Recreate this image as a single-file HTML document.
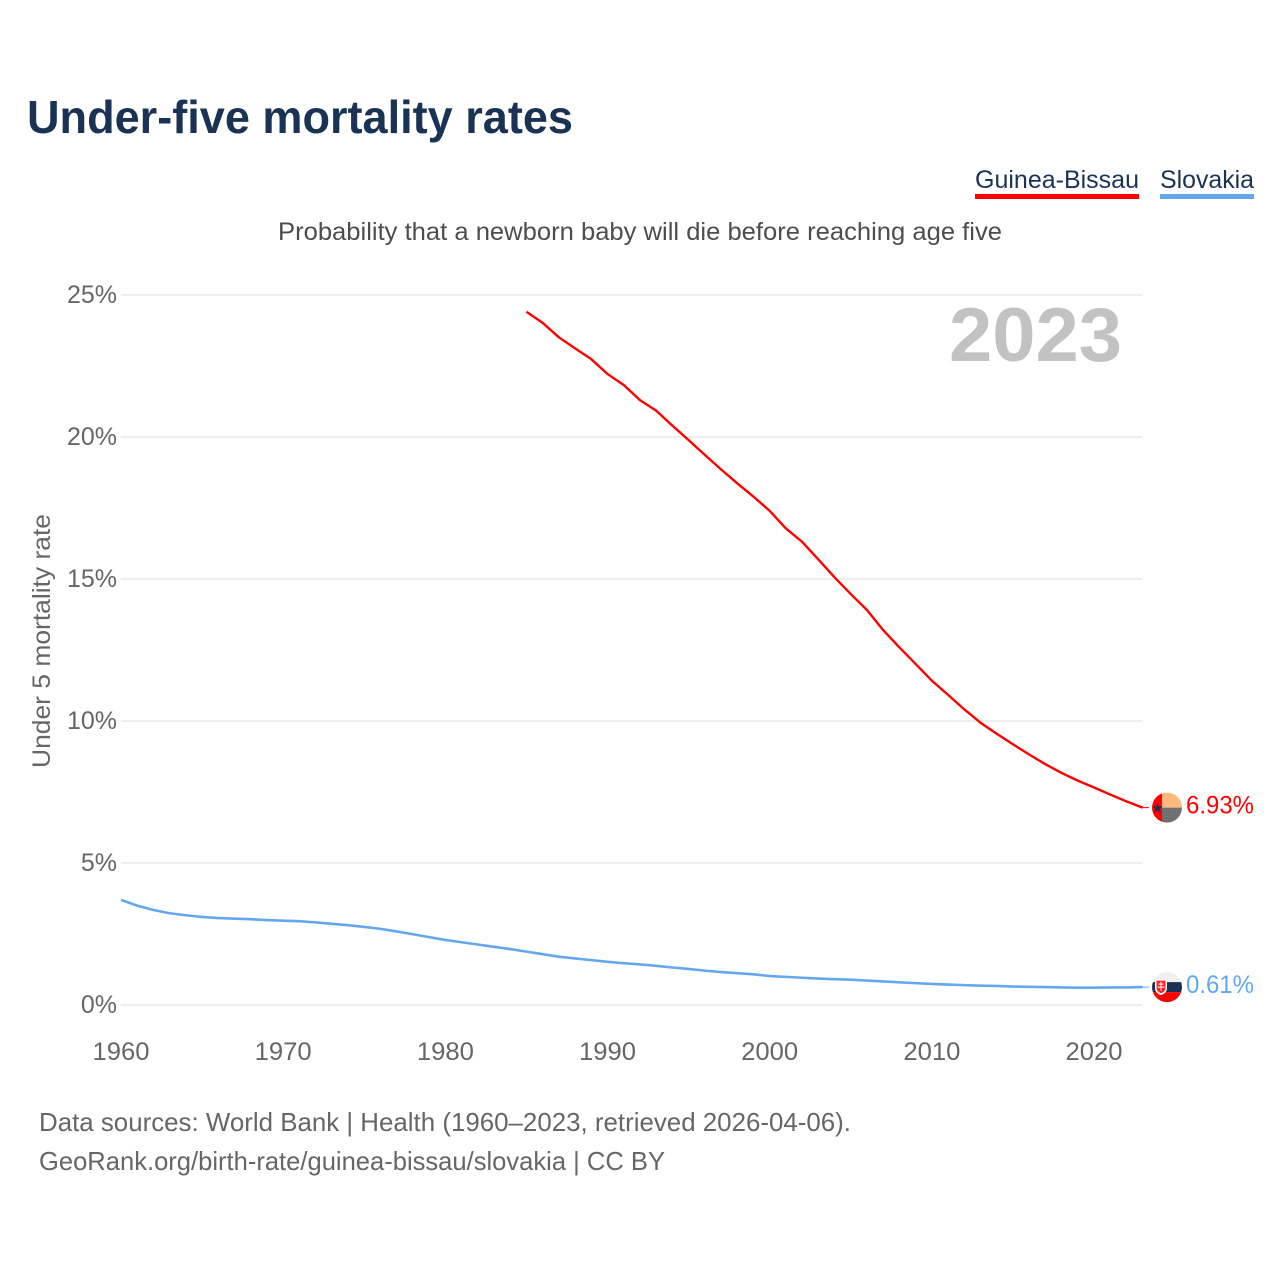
<!DOCTYPE html>
<html lang="en">
<head>
<meta charset="utf-8">
<title>Under-five mortality rates</title>
<style>
html,body{margin:0;padding:0;background:#fff;width:1280px;height:1280px;overflow:hidden}
svg{display:block}
text{font-family:"Liberation Sans",sans-serif}
</style>
</head>
<body>
<svg id="chart" width="1280" height="1280" viewBox="0 0 1280 1280" xmlns="http://www.w3.org/2000/svg">
  <defs>
    <clipPath id="clip-gw"><circle id="clip-gw-c" r="15"/></clipPath>
    <clipPath id="clip-sk"><circle id="clip-sk-c" r="15"/></clipPath>
    <pattern id="gw-dots" width="3" height="3" patternUnits="userSpaceOnUse"><rect width="3" height="3" fill="#6e6e6e"/><rect width="1" height="1" fill="#7e7e7e"/></pattern>
  </defs>
  <text x="27" y="133" font-size="46" font-weight="700" fill="#1a3355" textLength="546" lengthAdjust="spacingAndGlyphs">Under-five mortality rates</text>
  <text x="278" y="240" font-size="25" fill="#4d4d4d" textLength="724" lengthAdjust="spacingAndGlyphs">Probability that a newborn baby will die before reaching age five</text>

  <g>
    <text x="975" y="188" font-size="25" fill="#1a3355" textLength="164" lengthAdjust="spacingAndGlyphs">Guinea-Bissau</text>
    <rect x="975" y="194" width="164" height="5" fill="#ff0000"/>
  </g>
  <g>
    <text x="1160" y="188" font-size="25" fill="#1a3355" textLength="94" lengthAdjust="spacingAndGlyphs">Slovakia</text>
    <rect x="1160" y="194" width="94" height="5" fill="#63a8ef"/>
  </g>

  <g id="grid"></g>
  <g id="y-axis"></g>
  <g id="x-axis"></g>

  <text x="949" y="361" font-size="76" font-weight="700" fill="#c2c2c2" textLength="173" lengthAdjust="spacingAndGlyphs">2023</text>

  <text transform="translate(50,768) rotate(-90)" font-size="25" fill="#666" textLength="254" lengthAdjust="spacingAndGlyphs">Under 5 mortality rate</text>

  <g id="series"></g>
  <g id="ends"></g>

  <text x="39" y="1131" font-size="26" fill="#666" textLength="812" lengthAdjust="spacingAndGlyphs">Data sources: World Bank | Health (1960–2023, retrieved 2026-04-06).</text>
  <text x="39" y="1170" font-size="26" fill="#666" textLength="626" lengthAdjust="spacingAndGlyphs">GeoRank.org/birth-rate/guinea-bissau/slovakia | CC BY</text>
</svg>
<script>
const yTicks = [0, 5, 10, 15, 20, 25];
const xTicks = [1960, 1970, 1980, 1990, 2000, 2010, 2020];
const guineaStartYear = 1985;
const guineaValues = [24.41,24.02,23.51,23.12,22.74,22.22,21.83,21.3,20.93,20.4,19.89,19.37,18.86,18.37,17.9,17.4,16.78,16.31,15.69,15.06,14.47,13.91,13.2,12.59,12.01,11.42,10.92,10.41,9.94,9.55,9.18,8.82,8.48,8.17,7.9,7.66,7.41,7.17,6.95];
const slovakiaStartYear = 1960;
const slovakiaValues = [3.7,3.5,3.345,3.23,3.16,3.1,3.06,3.04,3.02,2.99,2.97,2.95,2.91,2.86,2.81,2.75,2.68,2.59,2.49,2.39,2.29,2.21,2.13,2.05,1.97,1.88,1.79,1.7,1.64,1.58,1.52,1.47,1.43,1.38,1.32,1.27,1.21,1.16,1.12,1.08,1.02,0.99,0.96,0.93,0.91,0.89,0.86,0.83,0.8,0.77,0.74,0.72,0.7,0.68,0.67,0.65,0.64,0.63,0.62,0.61,0.61,0.62,0.62,0.63];
const guineaLabel = "6.93%";
const slovakiaLabel = "0.61%";

const NS = "http://www.w3.org/2000/svg";
const xScale = function (year) { return 121 + (year - 1960) * (1094 - 121) / 60; };
const yScale = function (v) { return 1005 - v * (1005 - 295) / 25; };
const plotRight = 1142;

function make(tag, attrs, parent) {
  const el = document.createElementNS(NS, tag);
  for (const k in attrs) el.setAttribute(k, attrs[k]);
  parent.appendChild(el);
  return el;
}

const grid = document.getElementById("grid");
const yAxis = document.getElementById("y-axis");
const xAxis = document.getElementById("x-axis");
const series = document.getElementById("series");
const ends = document.getElementById("ends");

yTicks.forEach(function (t) {
  const line = make("line", { x1: 121, x2: plotRight, y1: yScale(t), y2: yScale(t), stroke: "#eeeeee", "stroke-width": 2 }, grid);
  
  
  const label = make("text", { x: 117, y: yScale(t) + 8, "font-size": 25, fill: "#666", "text-anchor": "end" }, yAxis);
  
  
  label.textContent = t + "%";
});

xTicks.forEach(function (t) {
  const label = make("text", { x: xScale(t), y: 1060, "font-size": 25, fill: "#666", "text-anchor": "middle", textLength: 57, lengthAdjust: "spacingAndGlyphs" }, xAxis);
  
  
  label.textContent = t;
});

function linePoints(startYear, values) {
  return values.map(function (v, i) { return xScale(startYear + i).toFixed(2) + "," + yScale(v).toFixed(2); }).join(" ");
}

const guineaLine = make("polyline", { points: linePoints(guineaStartYear, guineaValues), fill: "none", stroke: "#ff0000", "stroke-width": 2.4, "stroke-linejoin": "round" }, series);



const slovakiaLine = make("polyline", { points: linePoints(slovakiaStartYear, slovakiaValues), fill: "none", stroke: "#63a8ef", "stroke-width": 2.6, "stroke-linejoin": "round" }, series);



const flagX = 1167;
const gwLast = guineaValues[guineaValues.length - 1];
const skLast = slovakiaValues[slovakiaValues.length - 1];
const gwY = yScale(gwLast);
const skY = yScale(skLast);

const gwConn = make("line", { x1: xScale(2023), x2: flagX - 18, y1: gwY, y2: gwY, stroke: "#ff0000", "stroke-width": 1 }, ends);


const skConn = make("line", { x1: xScale(2023), x2: flagX - 18, y1: skY, y2: skY, stroke: "#63a8ef", "stroke-width": 1 }, ends);



document.getElementById("clip-gw-c").setAttribute("cx", flagX);
document.getElementById("clip-gw-c").setAttribute("cy", gwY);
document.getElementById("clip-sk-c").setAttribute("cx", flagX);
document.getElementById("clip-sk-c").setAttribute("cy", skY);

const gwFlag = make("g", { "clip-path": "url(#clip-gw)" }, ends);


make("rect", { x: flagX - 15, y: gwY - 15, width: 10, height: 30, fill: "#ff0000" }, gwFlag);
make("rect", { x: flagX - 5, y: gwY - 15, width: 20, height: 15, fill: "#ffb97d" }, gwFlag);
make("rect", { x: flagX - 5, y: gwY, width: 20, height: 15, fill: "url(#gw-dots)" }, gwFlag);

const starCx = flagX - 9.5;
const starCy = gwY + 0.5;
const starPts = [];
for (let i = 0; i < 10; i++) {
  const r = i % 2 === 0 ? 5.5 : 2.2;
  const a = -Math.PI / 2 + i * Math.PI / 5;
  starPts.push((starCx + r * Math.cos(a)).toFixed(2) + "," + (starCy + r * Math.sin(a)).toFixed(2));
}
const star = make("polygon", { points: starPts.join(" "), fill: "#1a3355" }, gwFlag);



const skFlag = make("g", { "clip-path": "url(#clip-sk)" }, ends);


make("rect", { x: flagX - 15, y: skY - 15, width: 30, height: 10, fill: "#f0f0f0" }, skFlag);
make("rect", { x: flagX - 15, y: skY - 5, width: 30, height: 10, fill: "#1a3355" }, skFlag);
make("rect", { x: flagX - 15, y: skY + 5, width: 30, height: 10, fill: "#ff0000" }, skFlag);
make("path", { d: "M" + (flagX - 12) + " " + (skY - 8) + "h12v9q0 5-6 7q-6-2-6-7z", fill: "#fff" }, skFlag);
make("path", { d: "M" + (flagX - 10.500) + " " + (skY - 6.500) + "h9v7.500q0 3.500-4.500 5q-4.500-1.500-4.500-5z", fill: "#ff2020" }, skFlag);
make("path", { d: "M" + (flagX - 6.500) + " " + (skY - 5.500) + "h1v2h2v1h-2v2h3v1h-3v3h-1v-3h-3v-1h3v-2h-2v-1h2z", fill: "#fff" }, skFlag);

const gwValue = make("text", { x: 1186, y: gwY + 6, "font-size": 25, fill: "#ff0000", textLength: 68, lengthAdjust: "spacingAndGlyphs" }, ends);


gwValue.textContent = guineaLabel;

const skValue = make("text", { x: 1186, y: skY + 6, "font-size": 25, fill: "#63a8ef", textLength: 68, lengthAdjust: "spacingAndGlyphs" }, ends);


skValue.textContent = slovakiaLabel;
</script>
</body>
</html>
